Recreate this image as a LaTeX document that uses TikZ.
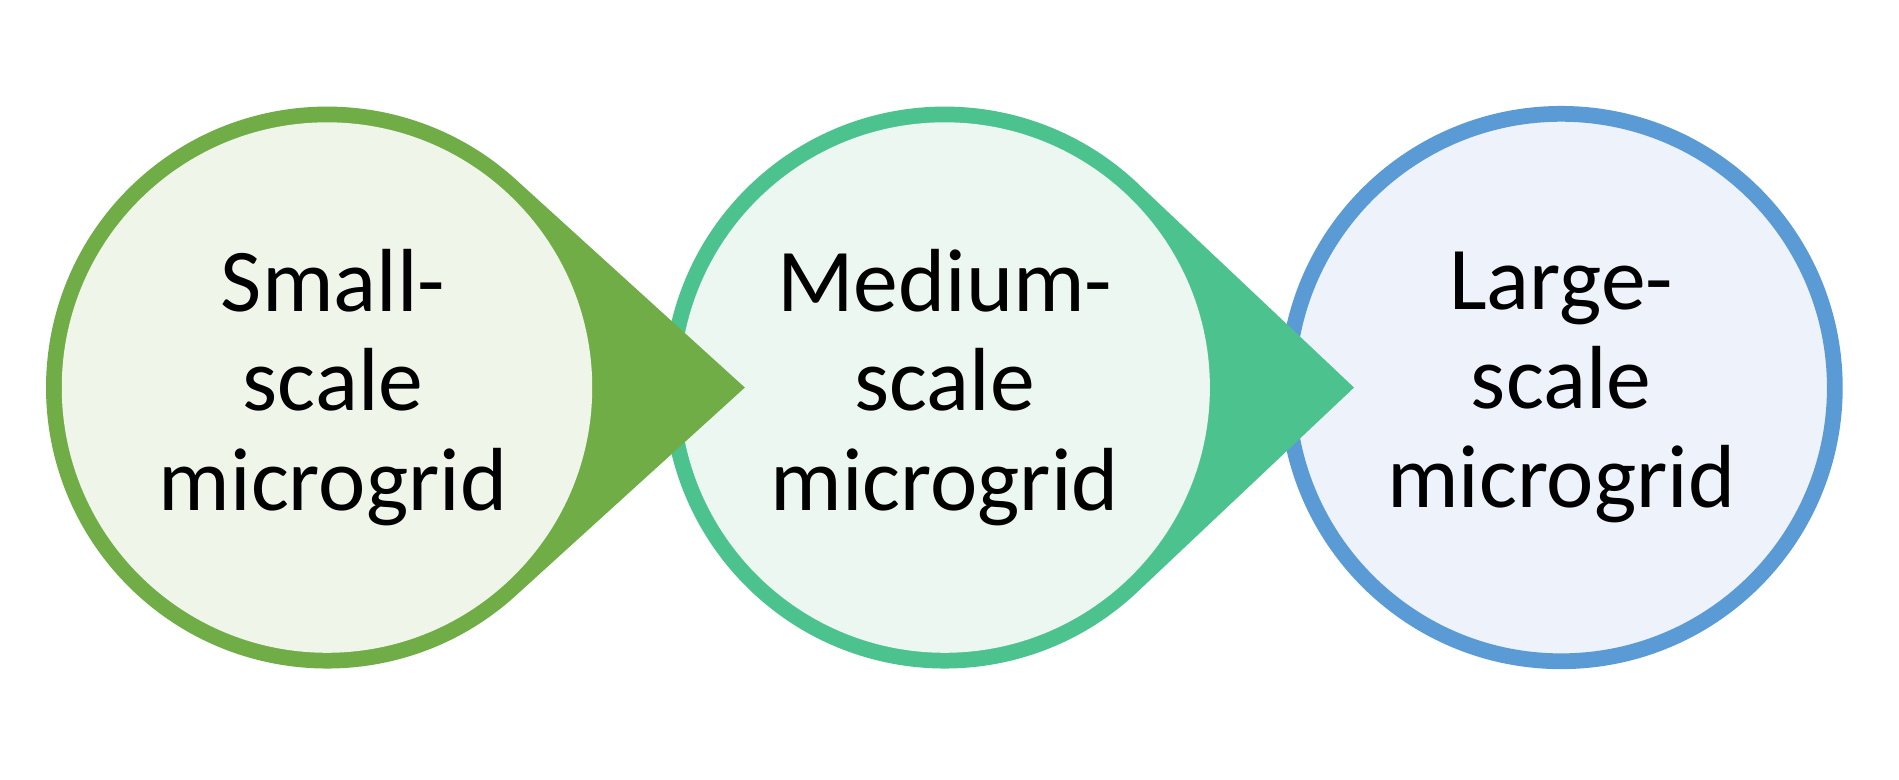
\documentclass[tikz,border=0pt]{standalone}
\usepackage{fontspec}
\setmainfont{Carlito}
\usetikzlibrary{calc}
\definecolor{g1}{HTML}{70AD47}\definecolor{f1}{HTML}{F0F5EA}
\definecolor{g2}{HTML}{4CC38E}\definecolor{f2}{HTML}{EDF7F1}
\definecolor{g3}{HTML}{5B9BD5}\definecolor{f3}{HTML}{EEF2FA}
\begin{document}
\begin{tikzpicture}[x=1pt,y=-1pt,
  lbl/.style={align=center,font=\fontsize{74}{82}\selectfont,text=black}]
\useasboundingbox (0,0) rectangle (1568,644);
\fill[white] (0,0) rectangle (1568,644);
% circle 3
\draw[g3,line width=13,fill=f3] (1289,320) circle (226);
% circle 2 with tip
\fill[g2] (1118,320) -- ($(780,320)+(47:232)$) arc (47:313:232) -- cycle;
\fill[f2] (780,320) circle (219);
% circle 1 with tip
\fill[g1] (615,320) -- ($(270,320)+(47:232)$) arc (47:313:232) -- cycle;
\fill[f1] (270,320) circle (219);
\node[lbl] (a) at (275,320) {Small-\\scale\\microgrid};
\node[lbl] (b) at (780,320) {Medium-\\scale\\microgrid};
\node[lbl] (c) at (1289,320) {Large-\\scale\\microgrid};
\end{tikzpicture}
\end{document}
